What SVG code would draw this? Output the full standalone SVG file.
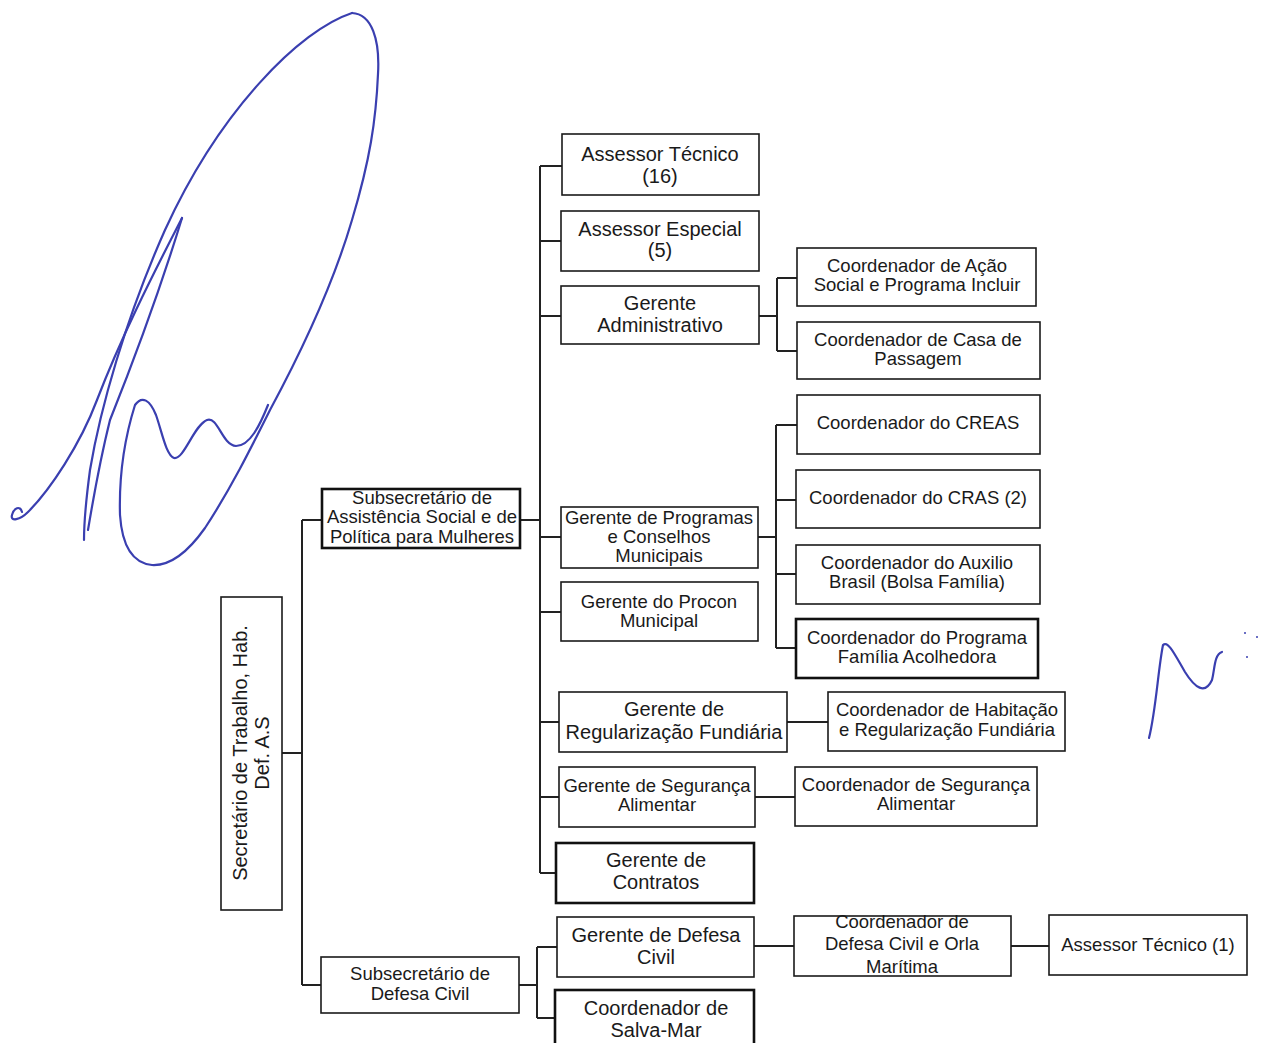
<svg xmlns="http://www.w3.org/2000/svg" width="1261" height="1043" viewBox="0 0 1261 1043">
<style>
.b{fill:#fff;stroke:#1a1a1a;stroke-width:1.6}
.t{fill:#fff;stroke:#111;stroke-width:2.6}
.x{font-family:"Liberation Sans",Arial,sans-serif;font-size:18.5px;fill:#1a1a1a;text-anchor:middle}
.l{font-size:20px}
.c{fill:none;stroke:#222;stroke-width:2}
.sig{fill:none;stroke:#3a3fb0;stroke-width:2.2;stroke-linecap:round;stroke-linejoin:round}
</style>
<rect width="1261" height="1043" fill="#fff"/>
<g id="connectors">
<path class="c" d="M282 753H302M302 520V985M302 520H322M302 985H321"/>
<path class="c" d="M520 520H540M540 166V873M540 166H562M540 241H561M540 316H561M540 537H561M540 612H561M540 722H559M540 797H559M540 873H556"/>
<path class="c" d="M759 316H777M777 278V351M777 278H797M777 351H797"/>
<path class="c" d="M758 537H776M776 425V648M776 425H797M776 500H796M776 574H796M776 648H796"/>
<path class="c" d="M787 722H828M755 797H795"/>
<path class="c" d="M519 985H537M537 947V1018M537 947H557M537 1018H555"/>
<path class="c" d="M754 946H794M1011 946H1049"/>
</g>
<g id="secretario">
<rect class="b" x="221" y="597" width="61" height="313"/>
<text class="x l" transform="translate(247,753) rotate(-90)"><tspan x="0" y="0">Secretário de Trabalho, Hab.</tspan><tspan x="0" y="22">Def. A.S</tspan></text>
</g>
<g id="subsec-as">
<rect class="t" x="322" y="489" width="198" height="59"/>
<text class="x"><tspan x="422" y="504">Subsecretário de</tspan><tspan x="422" y="523">Assistência Social e de</tspan><tspan x="422" y="543">Política para Mulheres</tspan></text>
</g>
<g id="assessor-tecnico-16">
<rect class="b" x="562" y="134" width="197" height="61"/>
<text class="x l"><tspan x="660" y="161">Assessor Técnico</tspan><tspan x="660" y="183">(16)</tspan></text>
</g>
<g id="assessor-especial">
<rect class="b" x="561" y="211" width="198" height="60"/>
<text class="x l"><tspan x="660" y="236">Assessor Especial</tspan><tspan x="660" y="257">(5)</tspan></text>
</g>
<g id="gerente-adm">
<rect class="b" x="561" y="286" width="198" height="58"/>
<text class="x l"><tspan x="660" y="310">Gerente</tspan><tspan x="660" y="332">Administrativo</tspan></text>
</g>
<g id="coord-acao-social">
<rect class="b" x="797" y="248" width="239" height="58"/>
<text class="x"><tspan x="917" y="272">Coordenador de Ação</tspan><tspan x="917" y="291">Social e Programa Incluir</tspan></text>
</g>
<g id="coord-casa-passagem">
<rect class="b" x="797" y="322" width="243" height="57"/>
<text class="x"><tspan x="918" y="346">Coordenador de Casa de</tspan><tspan x="918" y="365">Passagem</tspan></text>
</g>
<g id="coord-creas">
<rect class="b" x="797" y="395" width="243" height="59"/>
<text class="x" x="918" y="429">Coordenador do CREAS</text>
</g>
<g id="coord-cras">
<rect class="b" x="796" y="470" width="244" height="58"/>
<text class="x" x="918" y="504">Coordenador do CRAS (2)</text>
</g>
<g id="coord-auxilio">
<rect class="b" x="796" y="545" width="244" height="59"/>
<text class="x"><tspan x="917" y="569">Coordenador do Auxilio</tspan><tspan x="917" y="588">Brasil (Bolsa Família)</tspan></text>
</g>
<g id="coord-familia">
<rect class="t" x="796" y="619" width="242" height="59"/>
<text class="x"><tspan x="917" y="644">Coordenador do Programa</tspan><tspan x="917" y="663">Família Acolhedora</tspan></text>
</g>
<g id="gerente-programas">
<rect class="b" x="561" y="507" width="197" height="61"/>
<text class="x"><tspan x="659" y="524">Gerente de Programas</tspan><tspan x="659" y="543">e Conselhos</tspan><tspan x="659" y="562">Municipais</tspan></text>
</g>
<g id="gerente-procon">
<rect class="b" x="561" y="582" width="197" height="59"/>
<text class="x"><tspan x="659" y="608">Gerente do Procon</tspan><tspan x="659" y="627">Municipal</tspan></text>
</g>
<g id="gerente-regularizacao">
<rect class="b" x="559" y="692" width="228" height="60"/>
<text class="x l"><tspan x="674" y="716">Gerente de</tspan><tspan x="674" y="739">Regularização Fundiária</tspan></text>
</g>
<g id="coord-habitacao">
<rect class="b" x="828" y="692" width="237" height="59"/>
<text class="x"><tspan x="947" y="716">Coordenador de Habitação</tspan><tspan x="947" y="736">e Regularização Fundiária</tspan></text>
</g>
<g id="gerente-seguranca">
<rect class="b" x="559" y="767" width="196" height="60"/>
<text class="x"><tspan x="657" y="792">Gerente de Segurança</tspan><tspan x="657" y="811">Alimentar</tspan></text>
</g>
<g id="coord-seguranca">
<rect class="b" x="795" y="767" width="242" height="59"/>
<text class="x"><tspan x="916" y="791">Coordenador de Segurança</tspan><tspan x="916" y="810">Alimentar</tspan></text>
</g>
<g id="gerente-contratos">
<rect class="t" x="556" y="843" width="198" height="60"/>
<text class="x l"><tspan x="656" y="867">Gerente de</tspan><tspan x="656" y="889">Contratos</tspan></text>
</g>
<g id="subsec-dc">
<rect class="b" x="321" y="957" width="198" height="56"/>
<text class="x"><tspan x="420" y="980">Subsecretário de</tspan><tspan x="420" y="1000">Defesa Civil</tspan></text>
</g>
<g id="gerente-dc">
<rect class="b" x="557" y="917" width="197" height="60"/>
<text class="x l"><tspan x="656" y="942">Gerente de Defesa</tspan><tspan x="656" y="964">Civil</tspan></text>
</g>
<g id="coord-salva-mar">
<rect class="t" x="555" y="990" width="199" height="60"/>
<text class="x l"><tspan x="656" y="1015">Coordenador de</tspan><tspan x="656" y="1037">Salva-Mar</tspan></text>
</g>
<g id="coord-dc-orla">
<rect class="b" x="794" y="916" width="217" height="60"/>
<text class="x"><tspan x="902" y="928">Coordenador de</tspan><tspan x="902" y="950">Defesa Civil e Orla</tspan><tspan x="902" y="973">Marítima</tspan></text>
</g>
<g id="assessor-tecnico-1">
<rect class="b" x="1049" y="915" width="198" height="60"/>
<text class="x" x="1148" y="951">Assessor Técnico (1)</text>
</g>
<g id="signatures">
<path class="sig" d="M352 13C372 14 380 40 378 74C376 120 370 160 352 220C335 278 305 345 270 410C250 450 230 490 205 528C188 552 170 566 152 565C132 563 122 545 120 515C119 480 124 440 135 405C142 395 150 400 156 415C162 432 166 455 174 458C184 460 194 425 207 420C218 416 222 445 236 446C250 446 260 425 268 405"/>
<path class="sig" d="M352 13C300 30 220 110 165 230C125 320 100 410 90 470C86 500 84 520 84 540"/>
<path class="sig" stroke-width="1.4" d="M182 218C160 290 130 370 110 420C100 460 93 500 88 530"/>
<path class="sig" stroke-width="1.4" d="M182 218C150 280 120 340 97 400C80 445 50 490 28 512C20 520 10 522 12 515C14 508 20 505 22 512"/>
<path class="sig" d="M1149 738C1156 710 1158 670 1163 645C1168 640 1175 655 1185 672C1195 688 1205 695 1212 680C1215 668 1214 655 1222 652"/>
<circle cx="1245" cy="633" r="1" fill="#3a3fb0"/>
<circle cx="1257" cy="637" r="1" fill="#3a3fb0"/>
<circle cx="1247" cy="657" r="1" fill="#3a3fb0"/>
</g>
</svg>
